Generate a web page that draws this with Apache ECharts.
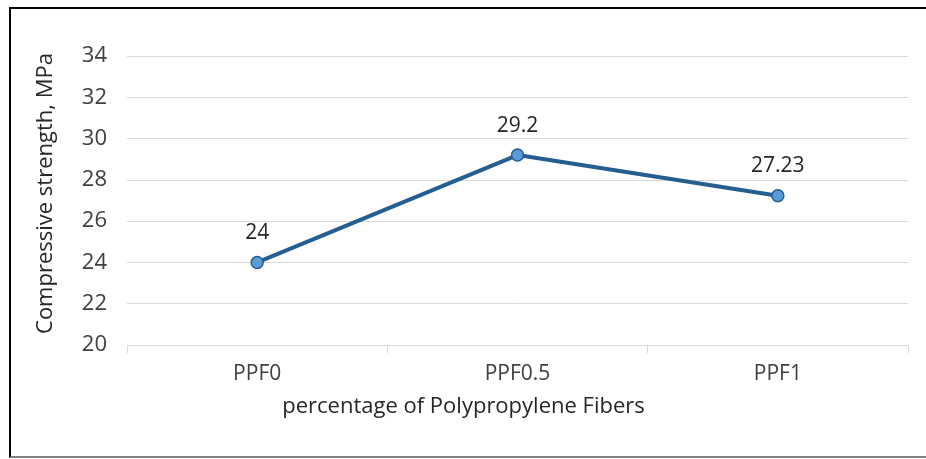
<!DOCTYPE html>
<html>
<head>
<meta charset="utf-8">
<script src="https://cdn.jsdelivr.net/npm/echarts@6/dist/echarts.min.js"></script>
<style>
html,body{margin:0;padding:0;background:#fff;}
#frame{position:absolute;left:9px;top:7px;width:930px;height:447px;border-left:2px solid #000;border-top:2px solid #000;border-bottom:2px solid #808080;}
#chart{position:absolute;left:0;top:0;width:926px;height:459px;}
</style>
</head>
<body>
<div id="frame"></div>
<div id="chart"></div>
<script>
const categories = ["PPF0", "PPF0.5", "PPF1"];
const strength = [24, 29.2, 27.23];
const labels = ["24", "29.2", "27.23"];
const yMin = 20, yMax = 34, yStep = 2;

const chart = echarts.init(document.getElementById('chart'));
const font = '"Open Sans", "Noto Sans", sans-serif';
chart.setOption({
  animation: false,
  grid: {left: 127, right: 18, top: 56, bottom: 114},
  xAxis: {
    type: 'category',
    data: categories,
    boundaryGap: true,
    name: 'percentage of Polypropylene Fibers',
    nameLocation: 'middle',
    nameGap: 51,
    nameTextStyle: {fontFamily: font, fontSize: 22, color: '#262626', padding: [0, 108, 0, 0]},
    axisLine: {lineStyle: {color: '#d9d9d9', width: 1}},
    axisTick: {show: true, length: 8, lineStyle: {color: '#d9d9d9'}},
    axisLabel: {fontFamily: font, fontSize: 21, color: '#404040', margin: 19}
  },
  yAxis: {
    type: 'value',
    min: yMin, max: yMax, interval: yStep,
    name: 'Compressive strength, MPa',
    nameLocation: 'middle',
    nameGap: 70,
    nameTextStyle: {fontFamily: font, fontSize: 22, color: '#262626', padding: [0, 0, 0, 14]},
    axisLine: {show: false},
    axisTick: {show: false},
    axisLabel: {fontFamily: font, fontSize: 22, color: '#404040', margin: 20},
    splitLine: {lineStyle: {color: '#d9d9d9', width: 1}}
  },
  series: [{
    type: 'line',
    data: strength,
    symbol: 'circle',
    symbolSize: 12,
    lineStyle: {color: '#255e91', width: 4},
    itemStyle: {color: '#5b9bd5', borderColor: '#255e91', borderWidth: 1.5},
    label: {
      show: true, position: 'top', distance: 12,
      fontFamily: font, fontSize: 21, color: '#262626',
      formatter: p => labels[p.dataIndex]
    }
  }]
});
</script>
</body>
</html>
